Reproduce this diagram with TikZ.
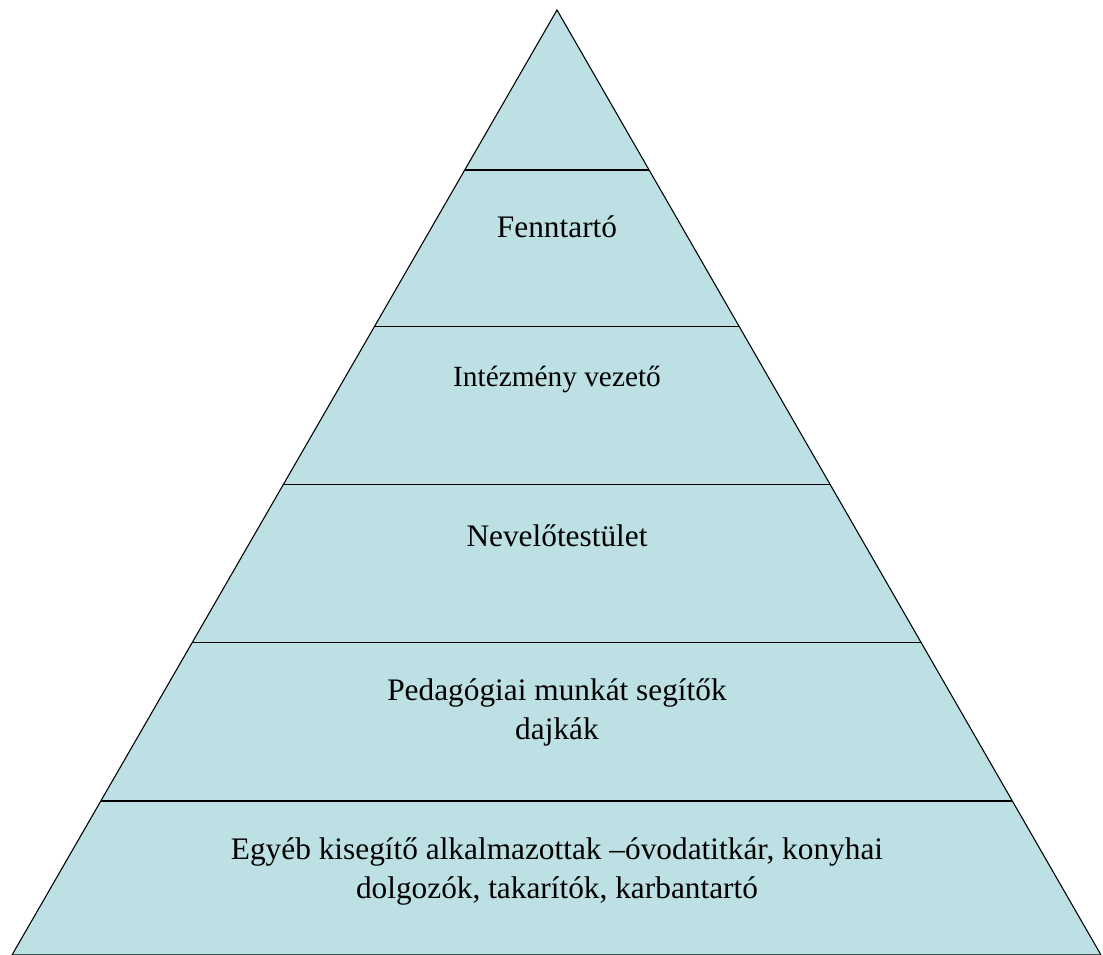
\documentclass[tikz,border=0pt]{standalone}
\usepackage{fontspec}
\setmainfont{Liberation Serif}
\usetikzlibrary{calc}
\definecolor{pyrblue}{HTML}{BCE0E3}

\begin{document}
\begin{tikzpicture}[x=0.75pt,y=-0.75pt]
    \useasboundingbox (0,0) rectangle (1103,955);
    \coordinate (top) at (557,10);
    \coordinate (bl) at (12,955);
    \coordinate (br) at (1101,955);

    \draw[fill=pyrblue,line width=0.8pt] (top) -- (bl) -- (br) -- cycle;
    \foreach \t in {0.1693,0.3354,0.5026,0.6698,0.8370}
      \draw[line width=0.8pt] ($(top)!\t!(bl)$) -- ($(top)!\t!(br)$);

    \begin{scope}[every node/.style={align=center,font=\fontsize{23.5}{29.25}\selectfont}]
      \node[anchor=base] (fenntarto) at (557,238) {Fenntartó};
      \node[anchor=base,font=\fontsize{22}{27}\selectfont] (vezeto) at (557,387) {Intézmény vezető};
      \node[anchor=base] (testulet) at (557,546) {Nevelőtestület};
      \node (segitok) at (557,712) {Pedagógiai munkát segítők\\dajkák};
      \node (egyeb) at (557,871) {Egyéb kisegítő alkalmazottak –óvodatitkár, konyhai\\dolgozók, takarítók, karbantartó};
    \end{scope}
\end{tikzpicture}
\end{document}
